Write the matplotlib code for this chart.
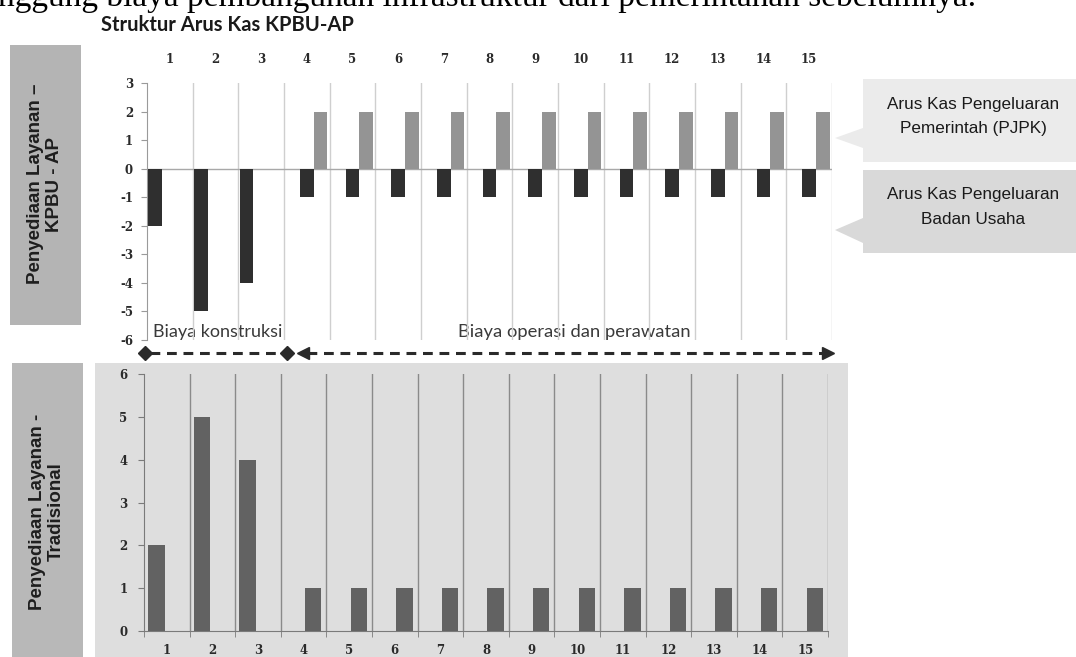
import matplotlib
matplotlib.use("Agg")
import matplotlib.pyplot as plt
from matplotlib.patches import Rectangle, Polygon
from matplotlib.ticker import FixedLocator

# ---- data ---------------------------------------------------------------
tahun = list(range(1, 16))
# KPBU-AP cash flows
bu_konstruksi = [-2, -5, -4, 0, 0, 0, 0, 0, 0, 0, 0, 0, 0, 0, 0]
bu_operasi = [0, 0, 0, -1, -1, -1, -1, -1, -1, -1, -1, -1, -1, -1, -1]
pjpk_pembayaran = [0, 0, 0, 2, 2, 2, 2, 2, 2, 2, 2, 2, 2, 2, 2]
# Traditional procurement cash flows
trad_konstruksi = [2, 5, 4, 0, 0, 0, 0, 0, 0, 0, 0, 0, 0, 0, 0]
trad_operasi = [0, 0, 0, 1, 1, 1, 1, 1, 1, 1, 1, 1, 1, 1, 1]
yticks_atas = [3, 2, 1, 0, -1, -2, -3, -4, -5, -6]
yticks_bawah = [0, 1, 2, 3, 4, 5, 6]

W, H = 1076, 657
fig = plt.figure(figsize=(W / 100, H / 100), dpi=100)
fig.patch.set_facecolor("white")


def px_axes(x0, y0, x1, y1, **kw):
    """Axes placed by pixel box (y measured from top)."""
    return fig.add_axes([x0 / W, 1 - y1 / H, (x1 - x0) / W, (y1 - y0) / H], **kw)


# overlay in pixel coordinates for panels, labels and arrows
bg = px_axes(0, 0, W, H, zorder=0)
bg.set_xlim(0, W)
bg.set_ylim(H, 0)
bg.axis("off")

# grey background of the traditional panel
bg.add_patch(Rectangle((95, 363), 848 - 95, H - 363, color="#dedede", lw=0))
# side label boxes
bg.add_patch(Rectangle((10, 45), 71, 280, color="#b4b4b4", lw=0))
bg.add_patch(Rectangle((12, 363), 71, H - 363, color="#b8b8b8", lw=0))
bg.text(45, 184, "Penyediaan Layanan –\nKPBU - AP", rotation=90, ha="center",
        va="center", fontsize=13.5, fontweight="bold", family="Liberation Sans",
        color="#1e1e1e", linespacing=1.1)
bg.text(47, 512, "Penyediaan Layanan -\nTradisional", rotation=90, ha="center",
        va="center", fontsize=13.5, fontweight="bold", family="Liberation Sans",
        color="#1e1e1e", linespacing=1.1)

# running text of the page and chart title
bg.text(-2, 6, "nggung biaya pembangunan infrastruktur dari pemerintahan sebelumnya.",
        ha="left", va="baseline", fontsize=24, family="Liberation Serif",
        color="black")
bg.text(101, 25, "Struktur Arus Kas KPBU-AP", ha="left", va="center",
        fontsize=14.5, fontweight="bold", family="Lato", color="#1a1a1a")

# callout boxes
bg.add_patch(Polygon([(863, 79), (W, 79), (W, 162), (863, 162), (863, 148),
                      (835, 138), (863, 128)], closed=True, color="#ebebeb", lw=0))
bg.add_patch(Polygon([(863, 170), (W, 170), (W, 253), (863, 253), (863, 243),
                      (835, 230), (863, 218)], closed=True, color="#d9d9d9", lw=0))
bg.text(973, 117, "Arus Kas Pengeluaran\nPemerintah (PJPK)", ha="center",
        va="center", fontsize=12.3, family="Liberation Sans", color="#1a1a1a",
        linespacing=1.75)
bg.text(973, 207, "Arus Kas Pengeluaran\nBadan Usaha", ha="center",
        va="center", fontsize=12.3, family="Liberation Sans", color="#1a1a1a",
        linespacing=1.75)

# phase arrows
arrow_c = "#2a2a2a"
ya = 353
bg.plot([150, 282], [ya, ya], ls=(0, (3.2, 2.2)), lw=2.2, color=arrow_c)
bg.plot([145, 287], [ya, ya], ls="none", marker="D", ms=7, color=arrow_c)
bg.plot([307, 823], [ya, ya], ls=(0, (3.2, 2.2)), lw=2.2, color=arrow_c)
bg.plot([303], [ya], ls="none", marker="<", ms=9, color=arrow_c)
bg.plot([828], [ya], ls="none", marker=">", ms=9, color=arrow_c)

tick_font = dict(family="DejaVu Serif", fontweight="bold", fontsize=8.5)

# ---- top panel: KPBU-AP --------------------------------------------------
ax1 = px_axes(147, 83, 832, 340, zorder=2)
ax1.patch.set_alpha(0)
ax1.set_xlim(0.5, 15.5)
ax1.set_ylim(-6, 3)
for b in [x + 0.5 for x in tahun]:
    ax1.axvline(b, color="#cfcfcf", lw=1, zorder=1)
ax1.axhline(0, color="#a8a8a8", lw=1, zorder=1)
w1 = 0.3
ax1.bar([t - 0.32 for t in tahun], bu_konstruksi, width=w1, color="#2f2f2f", zorder=3)
ax1.bar(tahun, bu_operasi, width=w1, color="#2f2f2f", zorder=3)
ax1.bar([t + 0.30 for t in tahun], pjpk_pembayaran, width=w1, color="#949494", zorder=3)
for s in ["top", "right", "bottom"]:
    ax1.spines[s].set_visible(False)
ax1.spines["left"].set_color("#9a9a9a")
ax1.xaxis.set_ticks_position("top")
ax1.set_xticks(tahun)
ax1.set_xticklabels([str(t) for t in tahun], color="#2a2a2a", **tick_font)
ax1.tick_params(axis="x", length=0, pad=12)
ax1.set_yticks(yticks_atas)
ax1.set_yticklabels([str(v) for v in yticks_atas], color="#2a2a2a", **tick_font)
ax1.tick_params(axis="y", length=4, color="#9a9a9a", pad=6)

bg.text(218, 332, "Biaya konstruksi", ha="center", va="center", fontsize=13,
        family="Lato", color="#3a3a3a", zorder=5,
        bbox=dict(facecolor="white", edgecolor="none", pad=0.5))
bg.text(574, 332, "Biaya operasi dan perawatan", ha="center", va="center",
        fontsize=13.2, family="Lato", color="#3a3a3a", zorder=5,
        bbox=dict(facecolor="white", edgecolor="none", pad=0.5))
bg.set_zorder(0)

# ---- bottom panel: traditional ------------------------------------------
ax2 = px_axes(144, 374, 828, 631, zorder=2)
ax2.patch.set_alpha(0)
ax2.set_xlim(0.5, 15.5)
ax2.set_ylim(0, 6)
for b in [x + 0.5 for x in tahun]:
    ax2.axvline(b, color="#8a8a8a", lw=1, zorder=1)
w2 = 0.36
ax2.bar([t - 0.23 for t in tahun], trad_konstruksi, width=w2, color="#626262", zorder=3)
ax2.bar([t + 0.21 for t in tahun], trad_operasi, width=w2, color="#626262", zorder=3)
for s in ["top", "right"]:
    ax2.spines[s].set_visible(False)
ax2.spines["left"].set_color("#7a7a7a")
ax2.spines["bottom"].set_color("#7a7a7a")
ax2.set_xticks(tahun)
ax2.set_xticklabels([str(t) for t in tahun], color="#2a2a2a", **tick_font)
ax2.xaxis.set_minor_locator(FixedLocator([x - 0.5 for x in tahun] + [15.5]))
ax2.tick_params(axis="x", which="major", length=0, pad=9)
ax2.tick_params(axis="x", which="minor", length=4, color="#7a7a7a")
ax2.set_yticks(yticks_bawah)
ax2.set_yticklabels([str(v) for v in yticks_bawah], color="#2a2a2a", **tick_font)
ax2.tick_params(axis="y", length=4, color="#7a7a7a", pad=8)

fig.savefig("out.png", dpi=100, facecolor="white")
